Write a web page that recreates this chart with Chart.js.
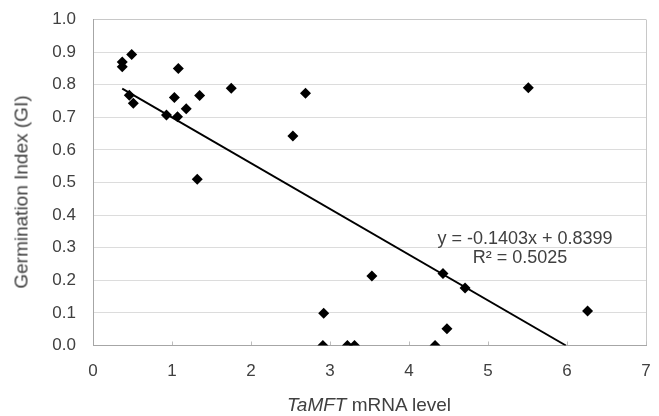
<!DOCTYPE html>
<html>
<head>
<meta charset="utf-8">
<script src="https://cdn.jsdelivr.net/npm/chart.js@4/dist/chart.umd.min.js"></script>
<style>
  html, body { margin: 0; padding: 0; background: #fff; }
  #wrap { position: relative; width: 659px; height: 416px; font-family: "Liberation Sans", Arial, sans-serif; color: #404040; }
  #c { position: absolute; left: 0; top: 0; }
  .lbl { position: absolute; white-space: nowrap; transform: translate(-50%, -50%); line-height: 1; }
  #ytitle { left: 21px; top: 192px; font-size: 19px; transform: translate(-50%, -50%) rotate(-90deg); }
  #xtitle { left: 369px; top: 404px; font-size: 19px; }
  #eq { left: 525px; top: 238px; font-size: 18px; }
  #r2 { left: 520px; top: 257px; font-size: 18px; }
</style>
</head>
<body>
<div id="wrap">
  <canvas id="c" width="659" height="416"></canvas>
  <div class="lbl" id="ytitle">Germination Index (GI)</div>
  <div class="lbl" id="xtitle"><i>TaMFT</i> mRNA level</div>
  <div class="lbl" id="eq">y = -0.1403x + 0.8399</div>
  <div class="lbl" id="r2">R² = 0.5025</div>
</div>
<script>
// measured points: TaMFT mRNA level vs germination index
const mrnaLevel = [0.37, 0.37, 0.49, 1.08, 0.46, 0.51, 0.93, 1.07, 1.03, 1.18, 1.35, 1.75, 2.69, 2.53, 1.32,
  5.51, 3.53, 2.92, 2.91, 3.22, 3.31, 4.43, 4.71, 4.48, 4.33, 6.26];
const germIndex = [0.870, 0.855, 0.893, 0.850, 0.768, 0.743, 0.707, 0.702, 0.761, 0.726, 0.767, 0.789, 0.774, 0.643, 0.510,
  0.791, 0.213, 0.099, 0.0, 0.0, 0.0, 0.221, 0.176, 0.051, 0.0, 0.106];

// linear trendline y = slope*x + intercept, drawn between these x
const slope = -0.1403, intercept = 0.8399;
const trendX = [0.37, 5.986];

const xTicks = [0, 1, 2, 3, 4, 5, 6, 7];
const yTicks = [0, 0.1, 0.2, 0.3, 0.4, 0.5, 0.6, 0.7, 0.8, 0.9, 1.0];

const pts = mrnaLevel.map((x, i) => ({ x, y: germIndex[i] }));
const trend = trendX.map(x => ({ x, y: slope * x + intercept }));

const font = { family: '"Liberation Sans", Arial, sans-serif', size: 17 };

new Chart(document.getElementById('c'), {
  type: 'scatter',
  data: {
    datasets: [
      { label: 'GI', data: pts, pointStyle: 'rectRot', pointRadius: 5.5, pointHoverRadius: 5.5,
        backgroundColor: '#000', borderColor: '#000', borderWidth: 0, order: 1 },
      { label: 'Linear', type: 'line', data: trend, borderColor: '#000', borderWidth: 1.9,
        pointRadius: 0, fill: false, order: 2 }
    ]
  },
  options: {
    responsive: false, animation: false, events: [],
    layout: { padding: { left: 0, right: 13, top: 19.5, bottom: 0 } },
    plugins: { legend: { display: false }, tooltip: { enabled: false } },
    scales: {
      x: {
        type: 'linear', min: 0, max: 7,
        afterBuildTicks: s => { s.ticks = xTicks.map(v => ({ value: v })); },
        afterFit: s => { s.height = 70.5; s.paddingLeft = 0; s.paddingRight = 0; },
        grid: { color: c => c.tick && c.tick.value === 7 ? '#c8c8c8' : 'transparent',
          drawTicks: true, tickLength: -4, tickColor: '#bdbdbd' },
        border: { color: '#a6a6a6', width: 1 },
        ticks: { font, color: '#404040', padding: 20 }
      },
      y: {
        type: 'linear', min: 0, max: 1,
        afterBuildTicks: s => { s.ticks = yTicks.map(v => ({ value: v })); },
        afterFit: s => { s.width = 93; s.paddingTop = 0; s.paddingBottom = 0; },
        grid: { color: c => c.tick && c.tick.value === 1 ? '#c8c8c8' : '#dcdcdc', drawTicks: false },
        border: { color: '#a6a6a6', width: 1 },
        ticks: { font, color: '#404040', padding: 17, callback: v => v.toFixed(1) }
      }
    }
  }
});
</script>
</body>
</html>
